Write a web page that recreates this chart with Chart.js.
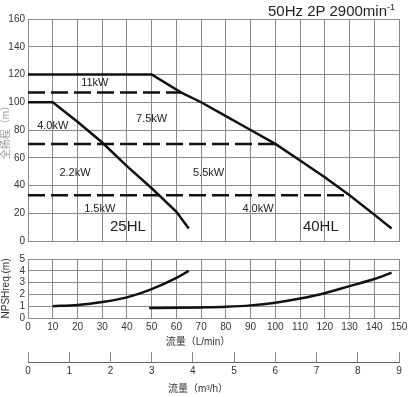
<!DOCTYPE html>
<html>
<head>
<meta charset="utf-8">
<script src="https://cdn.jsdelivr.net/npm/chart.js@4.4.1/dist/chart.umd.min.js"></script>
<style>
  body { margin: 0; background: #fff; }
  #wrap { position: relative; width: 414px; height: 397px; overflow: hidden; font-family: "Liberation Sans", Arial, sans-serif; }
  canvas { position: absolute; left: 0; }
  .txt { position: absolute; white-space: nowrap; color: #222; }
  .cjk { font-family: "Liberation Sans", "Noto Sans CJK SC", sans-serif; font-size: 10px; color: #333; }
</style>
</head>
<body>
<div id="wrap">
  <canvas id="head" width="414" height="250" style="top:0"></canvas>
  <canvas id="npsh" width="414" height="100" style="top:250px"></canvas>
  <canvas id="m3h" width="414" height="52" style="top:345px"></canvas>
  <div class="txt" style="right:19px; top:2px; font-size:15px;">50Hz 2P 2900min<sup style="font-size:9px; vertical-align:6px;">-1</sup></div>
  <div class="txt cjk" style="left:198px; top:333px; transform:translateX(-50%);">流量（L/min）</div>
  <div class="txt cjk" style="left:198px; top:380px; transform:translateX(-50%);">流量（m³/h）</div>
</div>
<script>
// Pump performance curves, 25HL / 40HL, 50Hz 2P.
// Flow in L/min, head in m, NPSHreq in m.

const flow40 = [0, 50, 62, 70, 80, 90, 100, 110, 120, 130, 140, 147];
const head40 = [120, 120, 107, 100, 90, 80, 70, 58, 46, 33, 19, 9];

const flow25 = [0, 10, 20, 30, 40, 50, 53, 60, 65];
const head25 = [100, 100, 86, 71, 54, 38, 33, 21, 9];

// motor power limit lines (dashed): head and the flow where they stop
const limitHead = [107, 70, 33];
const limitFlowEnd = [62, 100, 130];

const powerLabels = ["11kW", "7.5kW", "4.0kW", "2.2kW", "5.5kW", "1.5kW", "4.0kW"];
const powerFlow = [27, 50, 10, 19, 73, 29, 93];
const powerHead = [114, 88, 83, 49, 49, 23, 23];

const models = ["25HL", "40HL"];
const modelFlow = [40.4, 118.4];
const modelHead = [10, 10];

const npshFlow25 = [10, 20, 30, 40, 50, 60, 65];
const npsh25 = [1.0, 1.1, 1.35, 1.75, 2.45, 3.4, 4.0];

const npshFlow40 = [49, 60, 70, 80, 90, 100, 110, 120, 130, 140, 147];
const npsh40 = [0.85, 0.87, 0.9, 0.95, 1.07, 1.3, 1.65, 2.1, 2.7, 3.3, 3.85];

const FONT = "'Liberation Sans', Arial, sans-serif";
const GRID = "#8a8a8a";
const INK = "#111";

const pts = (xs, ys) => xs.map((x, i) => ({ x, y: ys[i] }));

function solid(data, smooth) {
  return {
    data,
    borderColor: INK,
    borderWidth: 2.5,
    pointRadius: 0,
    fill: false,
    tension: 0,
    cubicInterpolationMode: smooth ? "monotone" : "default",
  };
}

function yAxis(min, max, step, title, titleColor) {
  return {
    type: "linear",
    min, max,
    afterFit: (s) => { s.width = 28; },
    ticks: { stepSize: step, autoSkip: false, color: "#333", font: { family: FONT, size: 10 }, padding: 3 },
    grid: { color: GRID, drawTicks: false },
    border: { color: GRID },
    title: {
      display: true,
      text: title,
      color: titleColor,
      padding: 0,
      font: { family: "'Liberation Sans', 'Noto Sans CJK SC', sans-serif", size: 10 },
    },
  };
}

const textPlugin = {
  id: "curveText",
  afterDatasetsDraw(chart) {
    const { ctx, scales: { x, y } } = chart;
    ctx.save();
    ctx.fillStyle = "#222";
    ctx.textAlign = "center";
    ctx.textBaseline = "middle";
    ctx.font = "11px " + FONT;
    powerLabels.forEach((t, i) => {
      ctx.fillText(t, x.getPixelForValue(powerFlow[i]), y.getPixelForValue(powerHead[i]));
    });
    ctx.font = "15px " + FONT;
    models.forEach((t, i) => {
      ctx.fillText(t, x.getPixelForValue(modelFlow[i]), y.getPixelForValue(modelHead[i]));
    });
    ctx.restore();
  },
};

const limitSets = limitHead.map((h, i) => ({
  data: [{ x: 0, y: h }, { x: limitFlowEnd[i], y: h }],
  borderColor: INK,
  borderWidth: 2.5,
  borderDash: [17, 6],
  pointRadius: 0,
  fill: false,
}));

new Chart(document.getElementById("head"), {
  type: "line",
  data: {
    datasets: [solid(pts(flow40, head40)), solid(pts(flow25, head25)), ...limitSets],
  },
  options: {
    responsive: false,
    animation: false,
    layout: { padding: { top: 19, right: 15, bottom: 6, left: 0 } },
    plugins: { legend: { display: false }, tooltip: { enabled: false } },
    scales: {
      x: {
        type: "linear",
        min: 0, max: 150,
        afterFit: (s) => { s.height = 0; },
        ticks: { stepSize: 10, display: false },
        grid: { color: GRID, drawTicks: false },
        border: { color: GRID },
      },
      y: yAxis(0, 160, 20, "全扬程（m）", "#999"),
    },
  },
  plugins: [textPlugin],
});

new Chart(document.getElementById("npsh"), {
  type: "line",
  data: {
    datasets: [solid(pts(npshFlow25, npsh25), true), solid(pts(npshFlow40, npsh40), true)],
  },
  options: {
    responsive: false,
    animation: false,
    layout: { padding: { top: 7, right: 15, bottom: 0, left: 0 } },
    plugins: { legend: { display: false }, tooltip: { enabled: false } },
    scales: {
      x: {
        type: "linear",
        min: 0, max: 150,
        afterFit: (s) => { s.height = 32; },
        ticks: { stepSize: 10, autoSkip: false, color: "#333", font: { family: FONT, size: 10 }, padding: 3, maxRotation: 0 },
        grid: { color: GRID, drawTicks: false },
        border: { color: GRID },
      },
      y: yAxis(0, 5, 1, "NPSHreq.(m)", "#333"),
    },
  },
});

new Chart(document.getElementById("m3h"), {
  type: "line",
  data: { datasets: [] },
  options: {
    responsive: false,
    animation: false,
    layout: { padding: { top: 7, right: 15, bottom: 0, left: 28 } },
    plugins: { legend: { display: false }, tooltip: { enabled: false } },
    scales: {
      x: {
        type: "linear",
        min: 0, max: 9,
        afterFit: (s) => { s.height = 35; },
        ticks: { stepSize: 1, autoSkip: false, color: "#333", font: { family: FONT, size: 10 }, padding: 3, maxRotation: 0 },
        grid: { color: GRID, drawTicks: false },
        border: { color: "#666" },
      },
      y: { display: false, min: 0, max: 1 },
    },
  },
});
</script>
</body>
</html>
